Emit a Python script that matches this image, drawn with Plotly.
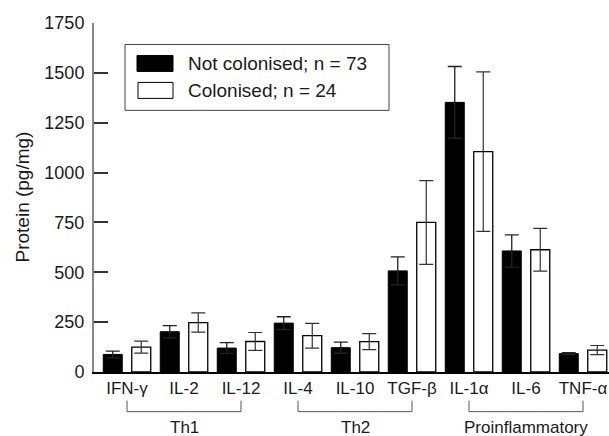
import plotly.graph_objects as go

categories = ["IFN-γ", "IL-2", "IL-12", "IL-4", "IL-10", "TGF-β", "IL-1α", "IL-6", "TNF-α"]
not_colonised = [88, 202, 120, 245, 122, 507, 1352, 607, 92]
not_colonised_err = [17, 31, 27, 32, 28, 70, 180, 81, 5]
colonised = [125, 248, 153, 182, 152, 750, 1105, 613, 110]
colonised_err = [30, 48, 45, 62, 40, 210, 400, 107, 23]
y_ticks = [0, 250, 500, 750, 1000, 1250, 1500, 1750]
groups = [("Th1", 0, 2), ("Th2", 3, 5), ("Proinflammatory", 6, 8)]
legend_labels = ["Not colonised; n = 73", "Colonised; n = 24"]

W, H = 609, 436
L, R, T, B = 94, 0, 22.5, 64
PW = W - L - R
PH = H - T - B
FONT = "Liberation Sans"
TXT = "#1a1a1a"


def px(x):
    return (x - L) / PW


def py(y):
    return (H - B - y) / PH


fig = go.Figure()
fig.add_trace(go.Bar(
    x=categories, y=not_colonised, name=legend_labels[0],
    marker=dict(color="black", line=dict(color="black", width=1)),
    error_y=dict(type="data", array=not_colonised_err, color="#222", thickness=1.3, width=7),
))
fig.add_trace(go.Bar(
    x=categories, y=colonised, name=legend_labels[1],
    marker=dict(color="white", line=dict(color="black", width=1.3)),
    error_y=dict(type="data", array=colonised_err, color="#333", thickness=1.2, width=7),
))

shapes = []
annotations = []
for name, a, b in groups:
    shapes.append(dict(type="path", xref="x", yref="paper",
                       path=f"M {a},{py(400.7)} L {a},{py(411.7)} L {b},{py(411.7)} L {b},{py(400.7)}",
                       line=dict(color="#555", width=1)))
    annotations.append(dict(x=(a + b) / 2, y=py(428), xref="x", yref="paper", text=name,
                            showarrow=False, xanchor="center", yanchor="middle",
                            font=dict(family=FONT, size=17, color=TXT)))

# legend drawn manually
shapes.append(dict(type="rect", xref="paper", yref="paper", x0=px(125), x1=px(389), y0=py(110), y1=py(44),
                   line=dict(color="#444", width=1), fillcolor="white", layer="above"))
shapes.append(dict(type="rect", xref="paper", yref="paper", x0=px(137), x1=px(173), y0=py(71), y1=py(55),
                   line=dict(color="black", width=1), fillcolor="black", layer="above"))
shapes.append(dict(type="rect", xref="paper", yref="paper", x0=px(138), x1=px(173), y0=py(98), y1=py(82),
                   line=dict(color="black", width=1), fillcolor="white", layer="above"))
for lab, yy in zip(legend_labels, [63, 90]):
    annotations.append(dict(x=px(186), y=py(yy), xref="paper", yref="paper", text=lab, showarrow=False,
                            xanchor="left", yanchor="middle", font=dict(family=FONT, size=19, color=TXT)))

annotations.append(dict(x=px(22), y=0.5, xref="paper", yref="paper", text="Protein (pg/mg)", textangle=-90,
                        showarrow=False, xanchor="center", yanchor="middle",
                        font=dict(family=FONT, size=19, color=TXT)))

fig.update_layout(
    width=W, height=H,
    margin=dict(l=L, r=R, t=T, b=B, pad=0),
    paper_bgcolor="white", plot_bgcolor="white",
    barmode="group", bargap=0, bargroupgap=1 / 3,
    showlegend=False,
    shapes=shapes, annotations=annotations,
    font=dict(family=FONT, color=TXT),
    xaxis=dict(range=[-33 / 57, 482 / 57], showline=True, linecolor="black", linewidth=1.5,
               ticks="", showgrid=False, zeroline=False,
               tickfont=dict(family=FONT, size=17, color=TXT)),
    yaxis=dict(range=[0, 1750], tickvals=y_ticks, ticks="inside", ticklen=14, tickwidth=1.5,
               tickcolor="#333", showline=True, linecolor="#888", linewidth=2, showgrid=False,
               zeroline=False, ticklabelstandoff=4,
               tickfont=dict(family=FONT, size=18, color=TXT)),
)

fig.write_html("out.html")
